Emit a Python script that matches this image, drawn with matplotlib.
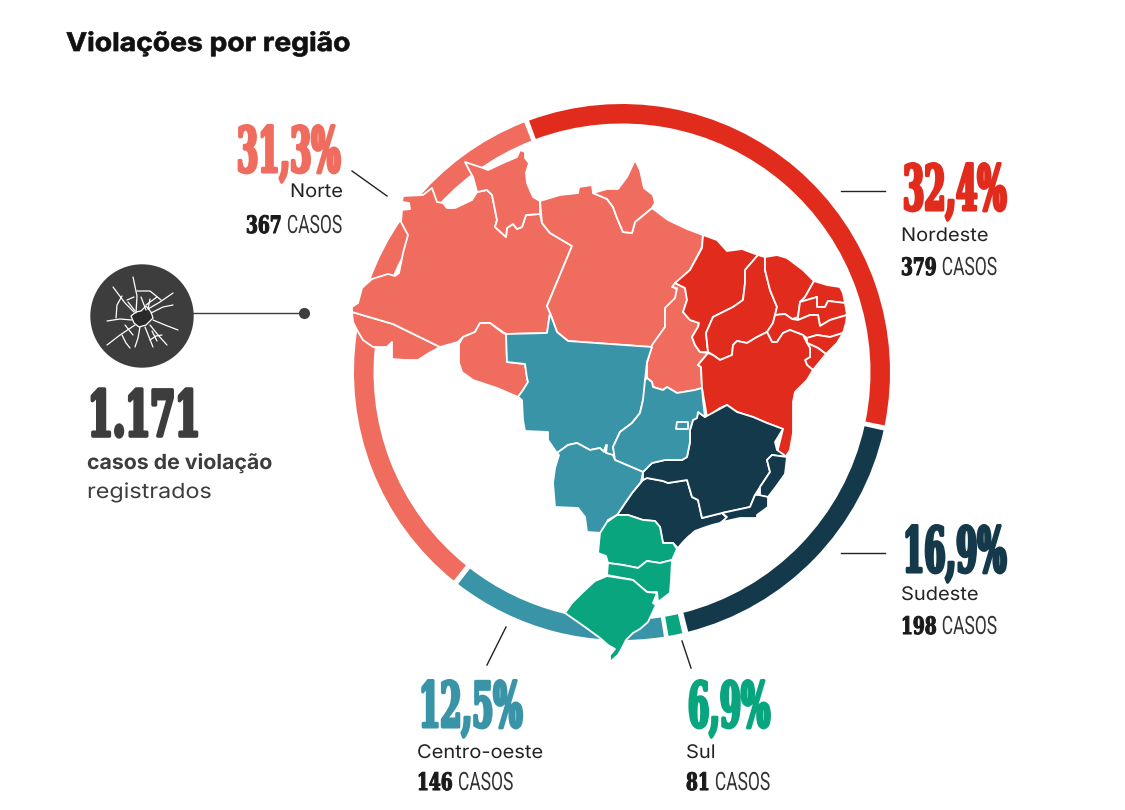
import matplotlib
matplotlib.use("Agg")
import matplotlib.pyplot as plt
from matplotlib.patches import Wedge, Polygon, Circle
from matplotlib.patheffects import AbstractPathEffect
from matplotlib.transforms import Affine2D

# regioes, na ordem do anel
regions = ["Norte", "Nordeste", "Sudeste", "Centro-oeste", "Sul"]
percent_labels = ["31,3%", "32,4%", "16,9%", "12,5%", "6,9%"]
case_counts = ["367", "379", "198", "146", "81"]
total_cases = "1.171"

region_colors = ["#EF6C5E", "#E12C1D", "#14394A", "#3A94A8", "#09A57F"]
dark_gray = "#3D3D3D"

# trechos do anel em graus, sentido horario a partir do topo
arc_start = [218.9, -20.3, 102.6, 171.0, 167.0]
arc_end = [338.6, 101.5, 165.7, 217.7, 170.0]

# estados: contornos em pixels
AC = [(352, 312), (393, 324), (440, 347), (429, 353), (418, 360), (405, 360), (392, 359), (392, 342), (387, 347), (373, 347), (363, 340), (357, 330), (353, 322)]
AM = [(352, 312), (352, 307), (358, 303), (362, 288), (372, 279), (388, 274), (395, 276), (399, 273), (403, 253), (408, 235), (401, 222),
      (402, 210), (410, 209), (409, 203), (402, 202), (403, 196), (423, 195), (432, 188), (437, 202), (443, 203), (447, 208), (455, 208),
      (472, 200), (477, 192), (487, 190), (492, 195), (497, 220), (495, 227), (506, 237), (507, 228), (513, 224), (517, 229), (522, 227),
      (526, 215), (540, 214), (542, 223), (550, 233), (572, 246), (547, 306), (550, 313), (547, 333), (506, 334), (503, 332), (490, 323),
      (480, 323), (475, 332), (463, 337), (458, 342), (440, 347), (393, 324)]
RR = [(465, 162), (483, 168), (488, 170), (503, 163), (517, 157), (520, 150), (525, 152), (525, 158), (529, 163), (526, 173), (527, 183),
      (533, 197), (540, 201), (540, 214), (526, 215), (522, 227), (517, 229), (513, 224), (507, 228), (506, 237), (495, 227), (497, 220),
      (492, 195), (487, 190), (477, 192), (473, 177), (468, 168)]
PA = [(540, 201), (560, 195), (578, 193), (579, 187), (592, 185), (593, 193), (607, 199), (613, 207), (617, 218), (623, 232), (632, 233),
      (635, 222), (652, 208), (668, 220), (687, 229), (703, 235), (702, 247), (690, 270), (673, 287), (678, 290), (675, 300), (665, 308),
      (665, 327), (652, 347), (568, 341), (557, 332), (550, 313), (547, 306), (572, 246), (550, 233), (542, 223)]
AP = [(593, 193), (607, 189), (618, 189), (627, 177), (635, 160), (640, 170), (644, 188), (653, 195), (655, 203), (652, 208), (635, 222),
      (632, 233), (623, 232), (617, 218), (613, 207), (607, 199)]
RO = [(459, 344), (463, 337), (475, 332), (480, 323), (490, 323), (503, 333), (506, 334), (507, 362), (525, 364), (527, 378), (528, 382),
      (523, 390), (518, 397), (497, 388), (473, 380), (462, 372), (459, 363)]
TO = [(672, 287), (677, 288), (675, 298), (665, 308), (665, 327), (652, 345), (647, 363), (647, 378), (652, 382), (653, 387), (663, 390),
      (667, 387), (677, 393), (683, 392), (695, 390), (702, 388), (701, 367), (698, 365), (708, 353), (700, 352), (695, 345), (692, 337),
      (698, 327), (699, 323), (690, 320), (683, 312), (687, 300), (685, 288), (675, 283)]

MA = [(703, 235), (717, 240), (727, 251), (742, 249), (758, 255), (745, 270), (745, 283), (743, 300), (733, 307), (713, 317), (706, 333),
      (708, 352), (700, 352), (695, 345), (692, 337), (698, 327), (699, 323), (690, 320), (683, 312), (687, 300), (685, 288), (675, 283),
      (690, 270), (702, 248)]
PI = [(758, 255), (765, 257), (765, 270), (770, 290), (777, 307), (773, 323), (767, 332), (757, 337), (747, 343), (737, 341), (733, 345),
      (732, 355), (720, 360), (713, 355), (708, 352), (706, 333), (713, 317), (733, 307), (743, 300), (745, 283), (745, 270)]
CE = [(765, 257), (777, 255), (787, 258), (795, 264), (803, 270), (814, 281), (805, 297), (800, 302), (798, 317), (792, 319), (785, 314), (775, 315),
      (777, 307), (770, 290), (765, 270)]
RN = [(814, 281), (827, 285), (840, 287), (843, 293), (845, 303), (828, 301), (825, 307), (817, 307), (817, 297), (800, 302), (805, 297)]
PB = [(800, 302), (817, 297), (817, 307), (825, 307), (828, 301), (845, 303), (847, 315), (830, 320), (820, 326), (818, 315), (810, 315),
      (798, 320), (798, 317)]
PE = [(775, 315), (785, 314), (792, 319), (798, 320), (810, 315), (818, 315), (820, 326), (830, 320), (847, 315), (846, 323), (843, 333),
      (830, 337), (817, 335), (807, 338), (803, 335), (790, 330), (783, 333), (777, 342), (772, 342), (767, 332), (773, 323)]
AL = [(807, 338), (817, 335), (830, 337), (843, 333), (837, 343), (826, 354), (818, 348), (807, 343)]
SE = [(807, 343), (818, 348), (826, 354), (813, 370), (807, 365), (805, 360), (810, 357), (810, 348)]
BA = [(767, 332), (772, 342), (777, 342), (783, 333), (790, 330), (803, 335), (807, 343), (810, 348), (810, 357), (805, 360), (807, 365),
      (813, 370), (807, 380), (801, 386), (795, 392), (793, 402), (793, 413), (793, 433), (790, 450), (785, 458), (777, 453), (783, 429), (767, 423), (753, 417),
      (737, 412), (727, 405), (720, 408), (707, 417), (702, 388), (701, 367), (698, 365), (708, 353), (713, 355), (720, 360), (732, 355),
      (733, 345), (737, 341), (747, 343), (757, 337)]

MT = [(506, 334), (547, 333), (550, 313), (557, 332), (568, 341), (652, 347), (647, 362), (645, 380), (648, 388), (643, 400), (640, 413),
      (632, 423), (620, 432), (613, 447), (615, 456), (606, 453), (607, 445), (603, 452), (600, 448), (590, 450), (577, 443), (568, 445),
      (557, 453), (548, 440), (548, 432), (525, 431), (523, 420), (522, 400), (518, 397), (523, 390), (528, 382), (527, 378), (525, 364),
      (507, 362)]
GO = [(647, 378), (652, 382), (653, 387), (663, 390), (667, 387), (677, 393), (683, 392), (695, 390), (702, 388), (703, 400), (705, 417),
      (698, 412), (697, 418), (693, 420), (690, 430), (690, 442), (687, 457), (682, 460), (665, 460), (652, 463), (643, 472), (615, 460),
      (613, 447), (620, 432), (632, 423), (640, 413), (643, 400), (645, 380)]
DF = [(677, 422), (688, 422), (688, 429), (676, 429)]
MS = [(557, 453), (568, 445), (577, 443), (590, 450), (600, 448), (604, 452), (606, 445), (606, 453), (613, 455), (615, 460), (643, 472),
      (641, 482), (632, 493), (617, 515), (608, 520), (602, 533), (587, 532), (585, 517), (578, 508), (555, 507), (553, 483), (555, 468),
      (559, 455)]

SP = [(643, 480), (647, 478), (663, 481), (668, 483), (687, 480), (692, 497), (698, 500), (702, 518), (722, 513), (727, 518), (720, 523),
      (712, 525), (703, 528), (695, 531), (688, 537), (683, 542), (678, 548), (673, 543), (663, 543), (660, 527), (655, 521), (643, 520), (628, 515), (617, 515), (632, 493)]
MG = [(643, 472), (652, 463), (665, 460), (682, 460), (687, 457), (690, 442), (690, 430), (693, 420), (697, 418), (698, 412), (705, 417),
      (727, 405), (737, 412), (753, 417), (767, 423), (783, 429), (775, 442), (777, 450), (787, 457), (772, 455), (767, 460), (770, 472),
      (760, 487), (755, 495), (750, 507), (722, 513), (702, 518), (698, 500), (692, 497), (687, 480), (668, 483), (663, 481), (647, 478),
      (643, 480)]
ES = [(772, 455), (787, 457), (785, 474), (775, 488), (768, 497), (760, 496), (760, 487), (770, 472), (767, 460)]
RJ = [(759, 495), (768, 497), (768, 507), (757, 515), (757, 518), (740, 518), (722, 522), (727, 517), (722, 513), (750, 507), (755, 495)]

PR = [(617, 515), (628, 515), (643, 520), (655, 521), (660, 527), (663, 543), (673, 543), (677, 549), (672, 560), (660, 563), (647, 561),
      (638, 568), (623, 565), (608, 563), (606, 556), (598, 553), (600, 533), (607, 522)]
SC = [(608, 563), (623, 565), (638, 568), (647, 561), (660, 563), (672, 560), (671, 580), (670, 593), (658, 602), (657, 592), (647, 592),
      (633, 580), (607, 575)]
RS = [(607, 576), (633, 580), (647, 592), (657, 593), (653, 603), (656, 605), (648, 622), (640, 629), (633, 633), (626, 640), (622, 648), (618, 655), (610, 662),
      (610, 655), (615, 649), (608, 645), (600, 638), (585, 627), (565, 613), (572, 603), (583, 592), (595, 581)]

region_states = [
    [AC, AM, RR, PA, AP, RO, TO],
    [MA, PI, CE, RN, PB, PE, AL, SE, BA],
    [SP, MG, ES, RJ],
    [MT, GO, DF, MS],
    [PR, SC, RS],
]

# trincas do icone
cracks = [
    [(136, 313), (137, 296), (133, 277)], [(134, 312), (125, 303), (113, 287)], [(148, 309), (160, 302), (173, 293)],
    [(151, 313), (163, 307), (173, 305)], [(153, 320), (165, 325), (178, 330)], [(150, 325), (158, 335), (167, 345)],
    [(145, 327), (149, 337), (153, 347)], [(140, 327), (138, 338), (135, 347)], [(135, 325), (120, 335), (107, 345)],
    [(132, 320), (120, 319), (107, 321)], [(135, 311), (128, 302)], [(122, 296), (117, 305), (116, 318)],
    [(137, 291), (150, 291), (161, 300)], [(122, 335), (126, 343), (130, 348)], [(150, 340), (156, 336), (162, 335)],
    [(146, 305), (157, 297)], [(125, 325), (133, 335)], [(141, 297), (146, 310)], [(150, 299), (148, 309)],
    [(152, 331), (157, 341)], [(127, 300), (134, 297)],
]
crack_hole = [(131, 316), (136, 312), (141, 311), (146, 306), (151, 312), (153, 318), (146, 325), (139, 327), (134, 323)]

condensed_slab = dict(family="DejaVu Serif", weight="bold")


class Stretch(AbstractPathEffect):
    """Estica o texto e engrossa o traco, para imitar a fonte condensada."""

    def __init__(self, sx=1.0, sy=1.0, stroke=0.0):
        super().__init__()
        self.sx = sx
        self.sy = sy
        self.stroke = stroke

    def draw_path(self, renderer, gc, tpath, affine, rgbFace):
        gc0 = renderer.new_gc()
        gc0.copy_properties(gc)
        gc0.set_foreground(rgbFace)
        gc0.set_linewidth(self.stroke)
        renderer.draw_path(gc0, tpath, Affine2D().scale(self.sx, self.sy) + affine, rgbFace)
        gc0.restore()


def big_number(ax, x, y, s, color):
    ax.text(x, y, s, color=color, fontsize=22, va="baseline", ha="left",
            path_effects=[Stretch(sx=1.0, sy=2.05, stroke=2.2)], **condensed_slab)


def case_line(ax, x, y, count, color="#1a1a1a"):
    t = ax.text(x, y, count, color=color, fontsize=12.3, va="baseline", ha="left",
                path_effects=[Stretch(sx=1.0, sy=1.4, stroke=0.8)], **condensed_slab)
    box = t.get_window_extent(ax.figure.canvas.get_renderer())
    ax.text(box.x1 + 5, y, "CASOS", color="#333333", fontsize=13.2, family="Roboto", va="baseline", ha="left",
            path_effects=[Stretch(sx=0.95, sy=1.38)])


def plain_label(ax, x, y, s, size, weight, color, sx):
    ax.text(x, y, s, fontsize=size, family="Inter", weight=weight, color=color, va="baseline",
            path_effects=[Stretch(sx=sx)])


fig = plt.figure(figsize=(11.25, 8.1), dpi=100)
ax = fig.add_axes([0, 0, 1, 1])
ax.set_xlim(0, 1125)
ax.set_ylim(810, 0)
ax.axis("off")

ax.text(66, 51, "Violações por região", fontsize=18.5, family="Inter", weight="bold", color="#111111", va="baseline",
        path_effects=[Stretch(sx=1.1, stroke=0.5)])

# anel
for a0, a1, color in zip(arc_start, arc_end, region_colors):
    ax.add_patch(Wedge((622, 372), 268, a0 - 90, a1 - 90, width=19.5, facecolor=color, edgecolor="none", zorder=1))

# mapa por cima do anel
for states, color in zip(region_states, region_colors):
    for pts in states:
        ax.add_patch(Polygon(pts, closed=True, facecolor=color, edgecolor="white", linewidth=1.3, joinstyle="round", zorder=2))

# linhas de chamada
for xs, ys in [((352, 387), (171, 196)), ((841, 885), (191, 191)), ((841, 885), (553, 553)),
               ((487, 506), (665, 627)), ((682, 691), (641, 668))]:
    ax.plot(xs, ys, color="#222222", lw=1, zorder=1)

# rotulos: numero grande, regiao e casos
big_xy = [(237, 172), (903, 210), (903, 572), (419, 727), (688, 727)]
name_xy = [(290, 197), (901, 241), (901, 600), (417, 758), (686, 758)]
case_xy = [(246, 233), (901, 275), (901, 634), (417, 790), (686, 790)]
for i, name in enumerate(regions):
    big_number(ax, big_xy[i][0], big_xy[i][1], percent_labels[i], region_colors[i])
    plain_label(ax, name_xy[i][0], name_xy[i][1], name, 13.5, "normal", "#222222", 1.07)
    case_line(ax, case_xy[i][0], case_xy[i][1], case_counts[i])

# icone e total
ax.add_patch(Circle((142, 316), 51.7, facecolor=dark_gray, edgecolor="none"))
ax.plot((193, 303), (313, 313), color=dark_gray, lw=1)
ax.plot(304, 313, "o", color=dark_gray, ms=8, mew=0)
for line in cracks:
    ax.plot(*zip(*line), color="white", lw=0.9, solid_capstyle="round")
ax.add_patch(Polygon(crack_hole, closed=True, facecolor="#2a2a2a", edgecolor="white", linewidth=0.9))

ax.text(88, 436, total_cases, color=dark_gray, fontsize=23, va="baseline", ha="left",
        path_effects=[Stretch(sx=1.12, sy=1.98, stroke=2.6)], **condensed_slab)
plain_label(ax, 87, 469, "casos de violação", 15, "bold", dark_gray, 1.02)
plain_label(ax, 87, 498, "registrados", 15, "normal", dark_gray, 1.12)

fig.savefig("out.png", dpi=100)
